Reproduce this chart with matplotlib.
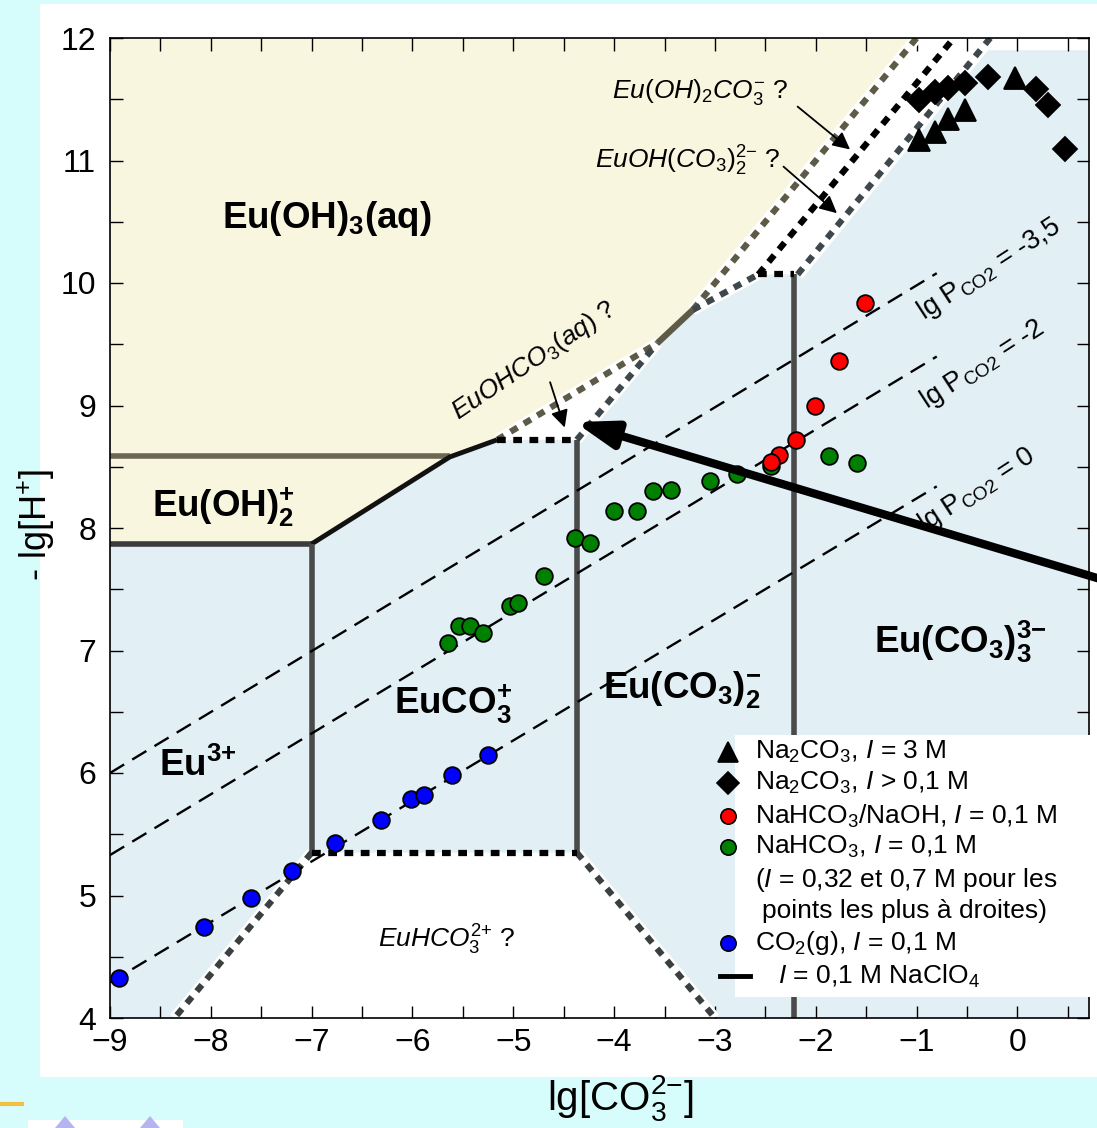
import matplotlib.pyplot as plt
from matplotlib.patches import Polygon, Rectangle
from matplotlib.lines import Line2D
from matplotlib.ticker import MultipleLocator

plt.rcParams['font.family'] = ['Liberation Sans', 'DejaVu Sans']
plt.rcParams['mathtext.fontset'] = 'custom'
plt.rcParams['mathtext.rm'] = 'Liberation Sans'
plt.rcParams['mathtext.it'] = 'Liberation Sans:italic'
plt.rcParams['mathtext.bf'] = 'Liberation Sans:bold'

# Na2CO3, I = 3 M
tri_x = [-0.98, -0.82, -0.69, -0.52, -0.02]
tri_y = [11.17, 11.23, 11.34, 11.41, 11.67]
# Na2CO3, I > 0,1 M
dia_x = [-0.98, -0.82, -0.69, -0.52, -0.29, 0.18, 0.30, 0.47]
dia_y = [11.49, 11.56, 11.59, 11.63, 11.68, 11.58, 11.45, 11.09]
# NaHCO3/NaOH, I = 0,1 M
red_x = [-1.51, -1.77, -2.01, -2.20, -2.36, -2.44]
red_y = [9.84, 9.36, 9.00, 8.72, 8.60, 8.54]
# NaHCO3, I = 0,1 M
green_x = [-5.65, -5.54, -5.43, -5.30, -5.03, -4.95, -4.70, -4.39, -4.24,
           -4.00, -3.77, -3.61, -3.44, -3.05, -2.78, -2.44, -1.87, -1.59]
green_y = [7.06, 7.20, 7.20, 7.14, 7.36, 7.39, 7.61, 7.92, 7.88,
           8.14, 8.14, 8.30, 8.31, 8.38, 8.44, 8.51, 8.59, 8.53]
# CO2(g), I = 0,1 M
blue_x = [-8.91, -8.07, -7.60, -7.19, -6.77, -6.31, -6.01, -5.89, -5.61, -5.25]
blue_y = [4.33, 4.74, 4.98, 5.20, 5.43, 5.62, 5.79, 5.82, 5.98, 6.15]

# iso-pCO2 lines
pco2_labels = ['-3,5', '-2', '0']
pco2_x = [-9.0, -0.8]
pco2_y = [[6.00, 10.08], [5.33, 9.40], [4.29, 8.34]]
pco2_lab_xy = [(-0.28, 10.11), (-0.35, 9.33), (-0.40, 8.31)]

# predominance areas
yellow_area = [(-9, 7.87), (-7, 7.87), (-5.63, 8.58), (-5.16, 8.72), (-3.57, 9.51),
               (-3.22, 9.78), (-1.0, 12.0), (-9, 12.0)]
blue_area = [(-9, 4.0), (-9, 7.87), (-7, 7.87), (-5.63, 8.58), (-5.16, 8.72), (-4.37, 8.72),
             (-3.57, 9.51), (-3.22, 9.78), (-2.57, 10.07), (-2.18, 10.07), (-0.35, 11.9),
             (0.71, 11.9), (0.71, 4.0), (-3.0, 4.0), (-4.37, 5.35), (-7, 5.35), (-8.36, 4.0)]

fig = plt.figure(figsize=(10.97, 11.28), dpi=100)
fig.patch.set_facecolor('#d7fcfc')
W, H = 1097.0, 1128.0


def fp(x, y):
    return x / W, 1 - y / H


fig.patches.append(Rectangle(fp(40, 1077), (1097 - 40) / W, (1077 - 4) / H,
                             transform=fig.transFigure, facecolor='white', edgecolor='none', zorder=-5))
fig.add_artist(Line2D([0, 22 / W], [1 - 1104 / H] * 2, color='#f2c040', lw=3, zorder=-4))
fig.patches.append(Rectangle(fp(28, 1128), 155 / W, 8 / H, transform=fig.transFigure,
                             facecolor='white', edgecolor='none', zorder=-4))
for cx in (65, 150):
    fig.patches.append(Polygon([fp(cx - 10, 1128), fp(cx, 1116), fp(cx + 10, 1128)], closed=True,
                               transform=fig.transFigure, facecolor='#b4b4f0', edgecolor='none', zorder=-3))

ax = fig.add_axes([110 / W, 1 - 1018 / H, (1089 - 110) / W, (1018 - 38) / H])
ax.set_facecolor('white')
ax.set_xlim(-9, 0.71)
ax.set_ylim(4, 12)

ax.add_patch(Polygon(yellow_area, closed=True, facecolor='#f8f6df', edgecolor='none', zorder=0))
ax.add_patch(Polygon(blue_area, closed=True, facecolor='#e2f0f5', edgecolor='none', zorder=0))


def seg(xs, ys, color, lw, dash=None, under=None, z=2):
    if under:
        ax.plot(xs, ys, color='white', lw=under, solid_capstyle='butt', zorder=z)
    ls = (0, dash) if dash else '-'
    ax.plot(xs, ys, color=color, lw=lw, linestyle=ls, dash_capstyle='butt',
            solid_capstyle='butt', zorder=z + 0.1)


# solid boundaries
seg([-9, -5.63], [8.59, 8.59], '#6b6753', 4)
seg([-9, -7], [7.87, 7.87], '#3c3c3c', 4)
seg([-7, -5.63, -5.16], [7.87, 8.58, 8.72], '#111111', 3.5)
seg([-7, -7], [5.35, 7.87], '#4a4a4a', 4)
seg([-4.37, -4.37], [5.35, 8.72], '#4a4a4a', 4)
seg([-2.22, -2.22], [4.0, 10.07], '#4a4a4a', 4)
seg([-3.57, -3.22], [9.51, 9.78], '#5e5a48', 4.5)

# uncertain boundaries
seg([-5.16, -3.57], [8.72, 9.51], '#5e5a48', 4.5, (1.3, 1.2), 8)
seg([-3.22, -1.0], [9.78, 12.0], '#5e5a48', 4.5, (1.3, 1.2), 8)
seg([-4.37, -3.57], [8.72, 9.51], '#3e484c', 4.5, (1.3, 1.2), 8)
seg([-3.22, -2.57], [9.78, 10.07], '#3e484c', 4.5, (1.3, 1.2), 8)
seg([-2.18, -0.27], [10.07, 12.0], '#3e484c', 4.5, (1.3, 1.2), 9)
seg([-7, -8.36], [5.35, 4.0], '#3a3f40', 4.5, (1.3, 1.2), 8)
seg([-4.37, -3.0], [5.35, 4.0], '#3a3f40', 4.5, (1.3, 1.2), 8)
seg([-7, -4.37], [5.35, 5.35], 'black', 4.5, (1.4, 1.2))
seg([-5.16, -4.37], [8.72, 8.72], 'black', 4.5, (1.4, 1.2))
seg([-2.57, -2.22], [10.07, 10.07], 'black', 4.5, (1.4, 1.2))
seg([-2.57, -0.63], [10.07, 12.0], 'black', 4.5, (1.4, 1.2), 8)

# iso-pCO2 lines
for ys, lab, (lx, ly) in zip(pco2_y, pco2_labels, pco2_lab_xy):
    ax.plot(pco2_x, ys, color='black', lw=1.7, linestyle=(0, (7, 4)), zorder=3)
    ax.text(lx, ly, r'lg P$_{\rm CO2}$ = ' + lab, fontsize=19.5, rotation=33,
            ha='center', va='center', zorder=6)

# experimental points
mk = dict(linestyle='none', markeredgecolor='black', markeredgewidth=1.3, zorder=5)
ax.plot(green_x, green_y, 'o', color='#008000', markersize=12, **mk)
ax.plot(blue_x, blue_y, 'o', color='#0000ff', markersize=12, **mk)
ax.plot(red_x, red_y, 'o', color='#ff0000', markersize=12, **mk)
ax.plot(tri_x, tri_y, '^', color='black', markersize=16, **mk)
ax.plot(dia_x, dia_y, 'D', color='black', markersize=12.5, **mk)

# I = 0,1 M NaClO4 limit
ax.annotate('', xy=(-4.39, 8.865), xytext=(1.0, 7.54),
            arrowprops=dict(arrowstyle='-|>,head_length=2.4,head_width=0.8', color='black',
                            lw=6, shrinkA=0, shrinkB=0), zorder=7)

# species labels
bold = dict(fontsize=26.5, ha='center', va='center', zorder=6)
ax.text(-6.85, 10.53, r'$\mathbf{Eu(OH)_3(aq)}$', **bold)
ax.text(-7.87, 8.17, r'$\mathbf{Eu(OH)_2^{{+}}}$', **bold)
ax.text(-8.13, 6.06, r'$\mathbf{Eu^{3{+}}}$', **bold)
ax.text(-5.60, 6.56, r'$\mathbf{EuCO_3^{{+}}}$', **bold)
ax.text(-3.32, 6.68, r'$\mathbf{Eu(CO_3)_2^{{-}}}$', **bold)
ax.text(-0.57, 7.07, r'$\mathbf{Eu(CO_3)_3^{3{-}}}$', **bold)

ital = dict(fontsize=19, ha='center', va='center', zorder=6)
ax.text(-5.66, 4.64, r'$\mathit{EuHCO_3^{2{+}}\ ?}$', **ital)
ax.text(-3.15, 11.56, r'$\mathit{Eu(OH)_2CO_3^{{-}}\ ?}$', **ital)
ax.text(-3.27, 11.00, r'$\mathit{EuOH(CO_3)_2^{2{-}}\ ?}$', **ital)
ax.text(-4.80, 9.37, r'$\mathit{EuOHCO_3(aq)\ ?}$', rotation=34, **ital)

thin = dict(arrowstyle='-|>', color='black', lw=1.3, mutation_scale=26, shrinkA=0, shrinkB=0)
ax.annotate('', xy=(-1.66, 11.09), xytext=(-2.18, 11.44), arrowprops=thin, zorder=6)
ax.annotate('', xy=(-1.79, 10.57), xytext=(-2.32, 10.95), arrowprops=thin, zorder=6)
ax.annotate('', xy=(-4.49, 8.82), xytext=(-4.635, 9.19), arrowprops=thin, zorder=6)

# axes styling
ax.set_xticks(range(-9, 1))
ax.set_yticks(range(4, 13))
ax.xaxis.set_minor_locator(MultipleLocator(0.5))
ax.yaxis.set_minor_locator(MultipleLocator(0.5))
ax.tick_params(which='both', direction='in', top=True, right=True, length=9, width=1)
ax.tick_params(axis='x', labelsize=23, pad=7)
ax.tick_params(axis='y', labelsize=23, pad=10)
for s in ax.spines.values():
    s.set_linewidth(1.2)

fig.text(*fp(620, 1098), r'lg[CO$_3^{2{-}}$]', fontsize=29, ha='center', va='center')
fig.text(*fp(36, 525), r'- lg[H$^{{+}}$]', fontsize=26, rotation=90, ha='center', va='center')

# legend box
fig.patches.append(Rectangle(fp(735, 997), (1097 - 735) / W, (997 - 735) / H,
                             transform=fig.transFigure, facecolor='white', edgecolor='none', zorder=10))
leg_rows = [
    ('^', 'black', 752, r'Na$_2$CO$_3$, $I$ = 3 M'),
    ('D', 'black', 783, r'Na$_2$CO$_3$, $I$ > 0,1 M'),
    ('o', '#ff0000', 816, r'NaHCO$_3$/NaOH, $I$ = 0,1 M'),
    ('o', '#008000', 847, r'NaHCO$_3$, $I$ = 0,1 M'),
    ('o', '#0000ff', 943, r'CO$_2$(g), $I$ = 0,1 M'),
]
for m, c, y, txt in leg_rows:
    ms = {'^': 15, 'D': 11, 'o': 11}[m]
    fig.add_artist(Line2D([728 / W], [1 - y / H], marker=m, color=c, markersize=ms,
                          markeredgecolor='black', markeredgewidth=1.2, zorder=11))
    fig.text(755 / W, 1 - y / H, txt, fontsize=19, ha='left', va='center', zorder=11)
fig.text(755 / W, 1 - 880 / H, r'($I$ = 0,32 et 0,7 M pour les', fontsize=19, va='center', zorder=11)
fig.text(762 / W, 1 - 911 / H, 'points les plus à droites)', fontsize=19, va='center', zorder=11)
fig.add_artist(Line2D([720 / W, 750 / W], [1 - 976 / H] * 2, color='black', lw=3.5, zorder=11))
fig.text(778 / W, 1 - 976 / H, r'$I$ = 0,1 M NaClO$_4$', fontsize=19, va='center', zorder=11)

fig.savefig('out.png', dpi=100, facecolor=fig.get_facecolor())
